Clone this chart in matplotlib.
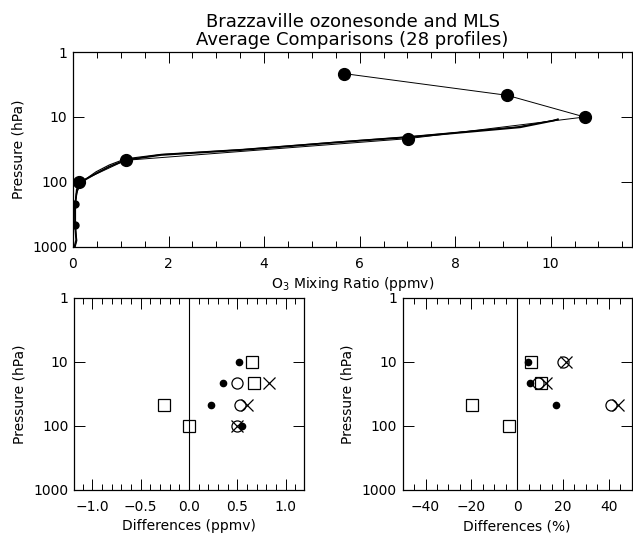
import numpy as np
import matplotlib
matplotlib.use('Agg')
import matplotlib.pyplot as plt
from matplotlib.ticker import MultipleLocator, FixedLocator, NullLocator

plt.rcParams['font.family'] = ['DejaVu Sans']

# MLS levels and average profile (top panel dots)
mls_p = [2.15, 4.64, 10.0, 21.5, 46.4, 100.0, 215.0, 464.0]
mls_o3 = [5.68, 9.09, 10.71, 7.02, 1.10, 0.13, 0.04, 0.04]

# ozonesonde average profiles (two curves)
sonde_p = [10.9, 11.4, 14.4, 20.5, 24.5, 32.2, 38.4, 46.0, 58.0, 73.5, 90.0, 105.0, 130.0, 234.0, 488.0, 780.0, 1000.0]
sonde_o3 = [10.15, 10.05, 9.36, 7.02, 5.56, 3.53, 1.84, 1.10, 0.76, 0.49, 0.28, 0.15, 0.08, 0.046, 0.046, 0.067, 0.03]
sonde2_p = [10.8, 11.3, 14.2, 20.0, 24.0, 31.5, 37.5, 44.0, 54.7, 69.5, 93.0, 118.0, 150.0, 240.0, 480.0, 800.0, 1000.0]
sonde2_o3 = [10.15, 10.05, 9.30, 7.05, 5.60, 3.55, 1.85, 1.10, 0.76, 0.485, 0.24, 0.136, 0.07, 0.035, 0.05, 0.08, 0.045]

# differences in ppmv (bottom left)
dot_ppmv = [(0.52, 10.0), (0.35, 21.5), (0.23, 46.4), (0.55, 100.0)]
sq_ppmv = [(0.65, 10.0), (0.67, 21.5), (-0.26, 46.4), (0.0, 100.0)]
circ_ppmv = [(0.50, 21.5), (0.53, 46.4), (0.50, 100.0)]
x_ppmv = [(0.83, 21.5), (0.60, 46.4), (0.50, 100.0)]

# differences in percent (bottom right)
dot_pct = [(4.8, 10.0), (5.4, 21.5), (17.0, 46.4)]
sq_pct = [(6.2, 10.0), (10.2, 21.5), (-19.6, 46.4), (-3.6, 100.0)]
circ_pct = [(19.9, 10.0), (9.1, 21.5), (40.9, 46.4)]
x_pct = [(21.3, 10.0), (12.8, 21.5), (44.2, 46.4)]

fig = plt.figure(figsize=(6.33, 5.34), dpi=100)

fs = 10


def style_pressure(ax):
    ax.set_yscale('log')
    ax.set_ylim(1000, 1)
    ax.yaxis.set_major_locator(FixedLocator([1, 10, 100, 1000]))
    ax.yaxis.set_minor_locator(NullLocator())
    ax.set_yticklabels(['1', '10', '100', '1000'])
    ax.tick_params(which='both', direction='in', top=True, right=True, labelsize=fs, width=0.7)
    ax.tick_params(which='major', length=8)
    ax.tick_params(which='minor', length=4)
    ax.tick_params(axis='x', pad=7)
    ax.tick_params(axis='y', pad=4)
    ax.set_ylabel('Pressure (hPa)', fontsize=fs, labelpad=5)
    for s in ax.spines.values():
        s.set_linewidth(0.9)


# top panel
ax = fig.add_axes([0.1153, 0.5375, 0.8830, 0.3651])
ax.plot(sonde_o3, sonde_p, color='black', lw=1.3)
ax.plot(sonde2_o3, sonde2_p, color='black', lw=0.8)
ax.plot(mls_o3, mls_p, color='black', lw=0.7)
ax.plot(mls_o3[:6], mls_p[:6], 'o', color='black', ms=8.5)
ax.plot(mls_o3[6:], mls_p[6:], 'o', color='black', ms=5)
ax.set_xlim(0, 11.7)
ax.xaxis.set_major_locator(MultipleLocator(2))
ax.xaxis.set_minor_locator(MultipleLocator(0.5))
style_pressure(ax)
ax.set_xlabel('O$_3$ Mixing Ratio (ppmv)', fontsize=fs, labelpad=3)
fig.text(0.557, 0.959, 'Brazzaville ozonesonde and MLS', ha='center', va='center', fontsize=13)
fig.text(0.557, 0.926, 'Average Comparisons (28 profiles)', ha='center', va='center', fontsize=13)


def diff_panel(rect, dots, sqs, circs, xs, xlim, minor, ticks, xlabel):
    a = fig.add_axes(rect)
    a.axvline(0, color='black', lw=0.8)
    a.plot([d[0] for d in dots], [d[1] for d in dots], 'o', color='black', ms=4.5)
    a.plot([d[0] for d in sqs], [d[1] for d in sqs], 's', mfc='none', mec='black', ms=8, mew=0.9)
    a.plot([d[0] for d in circs], [d[1] for d in circs], 'o', mfc='none', mec='black', ms=8, mew=0.9)
    a.plot([d[0] for d in xs], [d[1] for d in xs], 'x', color='black', ms=8, mew=0.9)
    a.set_xlim(*xlim)
    a.xaxis.set_major_locator(FixedLocator(ticks))
    a.xaxis.set_minor_locator(MultipleLocator(minor))
    style_pressure(a)
    a.set_xlabel(xlabel, fontsize=fs, labelpad=4)
    return a


ppmv_ticks = [-1.0, -0.5, 0.0, 0.5, 1.0]
ax2 = diff_panel([0.117, 0.0824, 0.3633, 0.3596], dot_ppmv, sq_ppmv, circ_ppmv, x_ppmv,
                 (-1.19, 1.19), 0.1, ppmv_ticks, 'Differences (ppmv)')
ax2.set_xticklabels(['\u22121.0', '\u22120.5', '0.0', '0.5', '1.0'])

pct_ticks = [-40, -20, 0, 20, 40]
ax3 = diff_panel([0.636, 0.0824, 0.362, 0.3596], dot_pct, sq_pct, circ_pct, x_pct,
                 (-50, 50), 5, pct_ticks, 'Differences (%)')
ax3.set_xticklabels(['\u221240', '\u221220', '0', '20', '40'])

fig.savefig('out.png', dpi=100)
